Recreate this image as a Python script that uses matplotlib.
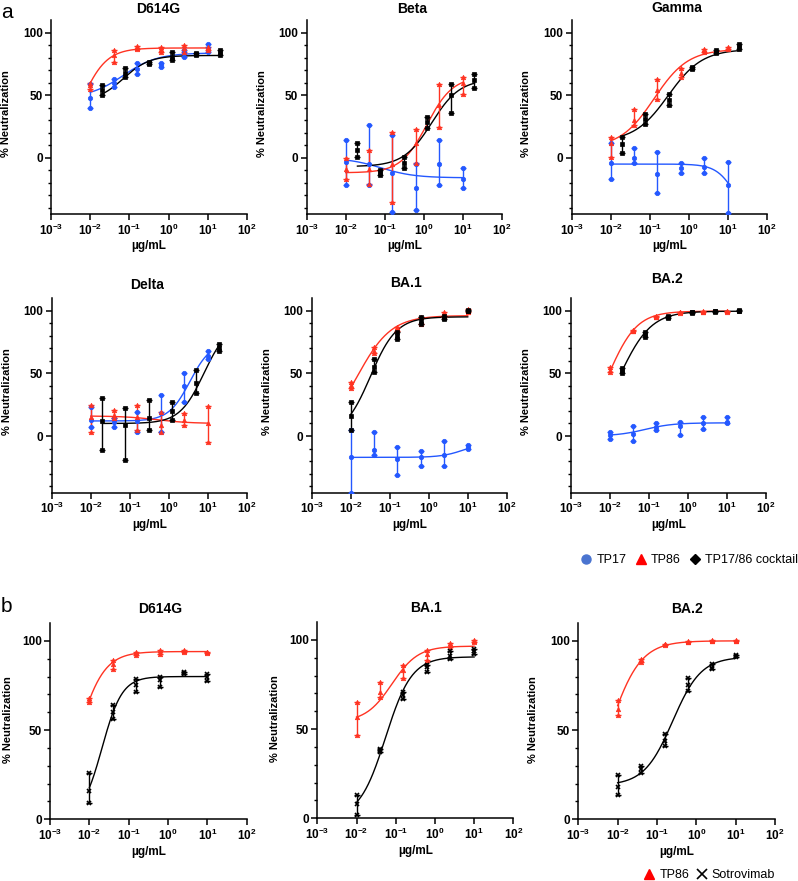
import numpy as np
import matplotlib
matplotlib.use("Agg")
import matplotlib.pyplot as plt
from matplotlib.lines import Line2D
from matplotlib.ticker import FixedLocator, NullLocator

plt.rcParams['font.family'] = ['Liberation Sans', 'DejaVu Sans']
plt.rcParams['mathtext.fontset'] = 'custom'
plt.rcParams['mathtext.rm'] = 'Liberation Sans:bold'
plt.rcParams['mathtext.it'] = 'Liberation Sans:bold'
plt.rcParams['mathtext.bf'] = 'Liberation Sans:bold'

# ---------------- data ----------------
CONC_SINGLE = [0.01, 0.04, 0.156, 0.625, 2.5, 10]
CONC_COCKTAIL = [0.02, 0.078, 0.3125, 1.25, 5, 20]
X_TICKS = [1e-3, 1e-2, 1e-1, 1e0, 1e1, 1e2]
X_TICK_LABELS = [r'$10^{-3}$', r'$10^{-2}$', r'$10^{-1}$', r'$10^{0}$', r'$10^{1}$', r'$10^{2}$']
Y_TICKS = [0, 50, 100]
TITLES_A = ['D614G', 'Beta', 'Gamma', 'Delta', 'BA.1', 'BA.2']
TITLES_B = ['D614G', 'BA.1', 'BA.2']
SERIES_A = ['TP17', 'TP86', 'TP17/86 cocktail']
SERIES_B = ['TP86', 'Sotrovimab']

# panel a -- D614G
D614G_TP17_MEAN = [48, 60, 71, 74, 84, 88]
D614G_TP17_LO = [40, 57, 67, 73, 81, 85]
D614G_TP17_HI = [59, 63, 76, 76, 86, 91]
D614G_TP17_FIT = [48, 84, 0.07, 1.0]
D614G_TP86_MEAN = [58, 82, 88, 87, 88, 88]
D614G_TP86_LO = [55, 77, 87, 85, 85, 86]
D614G_TP86_HI = [60, 86, 89.5, 89, 90, 89]
D614G_TP86_FIT = [0, 88, 0.0057, 1.34]
D614G_MIX_MEAN = [54, 68, 76, 81, 83, 84]
D614G_MIX_LO = [50, 65, 75.5, 78, 82, 82]
D614G_MIX_HI = [58, 72, 77, 85, 84, 86]
D614G_MIX_FIT = [45, 82, 0.07, 1.3]

# panel a -- Beta
BETA_TP17_MEAN = [-3, -5, -12, -24, -5, -17]
BETA_TP17_LO = [-22, -22, -43, -42, -22, -24]
BETA_TP17_HI = [14, 26, 18, -5, 14, -8]
BETA_TP17_FIT = [0, -16, 0.08, 1.0]
BETA_TP86_MEAN = [-9, -9, -5, 12, 42, 60]
BETA_TP86_LO = [-17, -21, -35, -4, 25, 51]
BETA_TP86_HI = [0, 6, 21, 23, 59, 65]
BETA_TP86_FIT = [-12, 65, 1.2, 1.3]
BETA_MIX_MEAN = [6, -12, -4, 29, 50, 62]
BETA_MIX_LO = [1, -14, -8, 24, 36, 56]
BETA_MIX_HI = [12, -10, 1, 33, 59, 67]
BETA_MIX_FIT = [-7, 63, 1.6, 1.2]

# panel a -- Gamma
GAMMA_TP17_MEAN = [-4, 0, -13, -8, -7, -22]
GAMMA_TP17_LO = [-17, -4.5, -28, -12, -12, -44]
GAMMA_TP17_HI = [12, 8, 5, -4, 0, -3]
GAMMA_TP17_FIT = [-5, -60, 18, 1.7]
GAMMA_TP86_MEAN = [12, 30, 54, 68, 86, 88]
GAMMA_TP86_LO = [1, 26, 47, 65, 84.5, 87]
GAMMA_TP86_HI = [17, 39, 63, 72, 87, 89]
GAMMA_TP86_FIT = [8, 87, 0.13, 1.0]
GAMMA_MIX_MEAN = [11, 31, 46, 72, 85, 89]
GAMMA_MIX_LO = [4, 27, 42, 71, 84, 87]
GAMMA_MIX_HI = [17, 35, 51, 73, 86, 91]
GAMMA_MIX_FIT = [13, 87, 0.3, 1.0]

# panel a -- Delta
DELTA_TP17_MEAN = [13, 11, 12, 18, 40, 64]
DELTA_TP17_LO = [7.5, 7.5, 3.5, 3.5, 27, 61]
DELTA_TP17_HI = [23, 14, 19, 33, 50, 68]
DELTA_TP17_FIT = [12, 75, 3.5, 1.6]
DELTA_TP86_MEAN = [15, 17, 15, 9, 13, 10]
DELTA_TP86_LO = [3, 14, 5, 3, 9, -5]
DELTA_TP86_HI = [25, 21, 25, 19, 18, 24]
DELTA_TP86_FIT = [16, 10, 0.5, 1.0]
DELTA_MIX_MEAN = [12, 9, 14, 20, 42, 70]
DELTA_MIX_LO = [-11, -19, 5, 13, 34, 68]
DELTA_MIX_HI = [30, 22, 29, 27, 53, 73]
DELTA_MIX_FIT = [10, 90, 8, 1.4]

# panel a -- BA.1 (cocktail tested at the single-antibody concentrations)
BA1_TP17_MEAN = [-17, -11, -18, -17, -15, -9]
BA1_TP17_LO = [-45, -15.5, -31, -24, -24, -10.7]
BA1_TP17_HI = [5, 3, -9, -12, -4, -7.5]
BA1_TP17_FIT = [-17, -5, 8, 1.5]
BA1_TP86_MEAN = [41, 68, 86, 92, 97, 100]
BA1_TP86_LO = [38, 66, 84, 89, 95, 99]
BA1_TP86_HI = [43, 71, 87, 95, 99, 101]
BA1_TP86_FIT = [0, 96, 0.015, 1.0]
BA1_MIX_MEAN = [16, 55, 80, 92, 94, 100]
BA1_MIX_LO = [5, 51, 77, 89, 93.5, 99.5]
BA1_MIX_HI = [27, 61, 83, 95, 96, 100.5]
BA1_MIX_FIT = [0, 95, 0.032, 1.3]

# panel a -- BA.2
BA2_TP17_MEAN = [0.5, 2, 7, 8, 10, 11]
BA2_TP17_LO = [-2, -4, 5, 1, 6, 10]
BA2_TP17_HI = [3, 8, 10, 11, 15, 15]
BA2_TP17_FIT = [0, 10.5, 0.08, 1.2]
BA2_TP86_MEAN = [53, 84, 95, 98.5, 99, 99.5]
BA2_TP86_LO = [51, 83.5, 94.5, 98, 98.8, 99.2]
BA2_TP86_HI = [55, 84.5, 96, 99, 99.5, 99.8]
BA2_TP86_FIT = [0, 99.5, 0.0095, 1.2]
BA2_MIX_MEAN = [52, 81, 95, 98.5, 99.5, 100]
BA2_MIX_LO = [50, 79, 94, 98, 99.2, 99.8]
BA2_MIX_HI = [54, 83, 96, 99, 99.8, 100.2]
BA2_MIX_FIT = [0, 99.5, 0.019, 1.1]

# panel b
B_D614G_TP86_MEAN = [67, 87, 93, 94, 94.5, 93.5]
B_D614G_TP86_LO = [66, 84, 92, 92.5, 94, 93]
B_D614G_TP86_HI = [68, 89, 94, 95, 95, 94]
B_D614G_TP86_FIT = [0, 94, 0.005, 1.3]
B_D614G_SOT_MEAN = [16, 60, 75, 78, 82, 79.5]
B_D614G_SOT_LO = [9, 56, 71.6, 74, 81.5, 77.5]
B_D614G_SOT_HI = [26, 64, 78.5, 80, 82.5, 81.5]
B_D614G_SOT_FIT = [0, 80, 0.021, 1.7]

B_BA1_TP86_MEAN = [57, 71, 83, 92, 97, 99.5]
B_BA1_TP86_LO = [46.7, 67.9, 78.5, 88.8, 96, 99]
B_BA1_TP86_HI = [65.4, 76.6, 86, 94.4, 98, 100]
B_BA1_TP86_FIT = [54, 96.5, 0.08, 1.3]
B_BA1_SOT_MEAN = [8, 38, 69, 85, 91, 94]
B_BA1_SOT_LO = [2, 37, 67, 82, 89, 92]
B_BA1_SOT_HI = [13, 39, 71, 86, 94, 95]
B_BA1_SOT_FIT = [0, 90.5, 0.055, 1.3]

B_BA2_TP86_MEAN = [62, 89, 98, 99.5, 100, 100]
B_BA2_TP86_LO = [58.4, 88, 97.5, 99.2, 99.8, 99.8]
B_BA2_TP86_HI = [66.8, 90, 98.5, 99.8, 100.2, 100.2]
B_BA2_TP86_FIT = [0, 100, 0.006, 1.1]
B_BA2_SOT_MEAN = [18, 28, 44, 75, 85, 91.5]
B_BA2_SOT_LO = [13.6, 26, 41, 72, 84, 91]
B_BA2_SOT_HI = [24.8, 30, 48, 79, 87, 92]
B_BA2_SOT_FIT = [19, 91, 0.25, 1.2]

# ---------------- styles ----------------
BLUE = '#2458ff'
RED = '#ff3322'
BLACK = '#000000'
STYLE_A = [(BLUE, 'o', 3.2), (RED, '^', 3.2), (BLACK, 's', 2.8)]
STYLE_B = [(RED, '^', 3.2), (BLACK, 'x', 3.2)]

W, H = 798, 881
fig = plt.figure(figsize=(W / 100, H / 100), dpi=100)


def four_pl(x, bottom, top, ec50, hill):
    x = np.asarray(x, dtype=float)
    return bottom + (top - bottom) / (1.0 + (ec50 / x) ** hill)


def make_axes(l, r, t, b):
    return fig.add_axes([l / W, 1 - b / H, (r - l) / W, (b - t) / H])


def style_axes(ax, ymin):
    ax.set_xscale('log')
    ax.set_xlim(1e-3, 1e2)
    ax.set_ylim(ymin, 110)
    for s in ['top', 'right']:
        ax.spines[s].set_visible(False)
    for s in ['left', 'bottom']:
        ax.spines[s].set_linewidth(1.1)
    ax.xaxis.set_major_locator(FixedLocator(X_TICKS))
    ax.set_xticklabels(X_TICK_LABELS)
    ax.xaxis.set_minor_locator(NullLocator())
    ax.yaxis.set_major_locator(FixedLocator(Y_TICKS))
    start = -40 if ymin < 0 else 0
    minors = [v for v in range(start, 101, 10) if v not in Y_TICKS]
    ax.yaxis.set_minor_locator(FixedLocator(minors))
    ax.tick_params(axis='both', which='major', direction='out', length=4, width=1.1,
                   labelsize=8.5, pad=2)
    ax.tick_params(axis='y', which='minor', direction='out', length=2.5, width=1.0)
    for lab in ax.get_yticklabels():
        lab.set_fontweight('bold')


def draw_series(ax, conc, mean, lo, hi, fit, color, marker, ms):
    conc = np.asarray(conc, dtype=float)
    mean = np.asarray(mean, dtype=float)
    lo = np.asarray(lo, dtype=float)
    hi = np.asarray(hi, dtype=float)
    xs = np.logspace(np.log10(conc.min()), np.log10(conc.max()), 200)
    ax.plot(xs, four_pl(xs, *fit), color=color, lw=1.0, zorder=2)
    ax.errorbar(conc, mean, yerr=[mean - lo, hi - mean], fmt='none', ecolor=color,
                elinewidth=1.0, capsize=2.5, capthick=1.0, zorder=3)
    pts_x = np.concatenate([conc, conc, conc])
    pts_y = np.concatenate([lo, mean, hi])
    mew = 1.2 if marker == 'x' else 0.5
    ax.plot(pts_x, pts_y, ls='none', marker=marker, ms=ms, color=color, mew=mew, zorder=4)


# panel tables
PANELS_A = [
    ([CONC_SINGLE, D614G_TP17_MEAN, D614G_TP17_LO, D614G_TP17_HI, D614G_TP17_FIT],
     [CONC_SINGLE, D614G_TP86_MEAN, D614G_TP86_LO, D614G_TP86_HI, D614G_TP86_FIT],
     [CONC_COCKTAIL, D614G_MIX_MEAN, D614G_MIX_LO, D614G_MIX_HI, D614G_MIX_FIT]),
    ([CONC_SINGLE, BETA_TP17_MEAN, BETA_TP17_LO, BETA_TP17_HI, BETA_TP17_FIT],
     [CONC_SINGLE, BETA_TP86_MEAN, BETA_TP86_LO, BETA_TP86_HI, BETA_TP86_FIT],
     [CONC_COCKTAIL, BETA_MIX_MEAN, BETA_MIX_LO, BETA_MIX_HI, BETA_MIX_FIT]),
    ([CONC_SINGLE, GAMMA_TP17_MEAN, GAMMA_TP17_LO, GAMMA_TP17_HI, GAMMA_TP17_FIT],
     [CONC_SINGLE, GAMMA_TP86_MEAN, GAMMA_TP86_LO, GAMMA_TP86_HI, GAMMA_TP86_FIT],
     [CONC_COCKTAIL, GAMMA_MIX_MEAN, GAMMA_MIX_LO, GAMMA_MIX_HI, GAMMA_MIX_FIT]),
    ([CONC_SINGLE, DELTA_TP17_MEAN, DELTA_TP17_LO, DELTA_TP17_HI, DELTA_TP17_FIT],
     [CONC_SINGLE, DELTA_TP86_MEAN, DELTA_TP86_LO, DELTA_TP86_HI, DELTA_TP86_FIT],
     [CONC_COCKTAIL, DELTA_MIX_MEAN, DELTA_MIX_LO, DELTA_MIX_HI, DELTA_MIX_FIT]),
    ([CONC_SINGLE, BA1_TP17_MEAN, BA1_TP17_LO, BA1_TP17_HI, BA1_TP17_FIT],
     [CONC_SINGLE, BA1_TP86_MEAN, BA1_TP86_LO, BA1_TP86_HI, BA1_TP86_FIT],
     [CONC_SINGLE, BA1_MIX_MEAN, BA1_MIX_LO, BA1_MIX_HI, BA1_MIX_FIT]),
    ([CONC_SINGLE, BA2_TP17_MEAN, BA2_TP17_LO, BA2_TP17_HI, BA2_TP17_FIT],
     [CONC_SINGLE, BA2_TP86_MEAN, BA2_TP86_LO, BA2_TP86_HI, BA2_TP86_FIT],
     [CONC_COCKTAIL, BA2_MIX_MEAN, BA2_MIX_LO, BA2_MIX_HI, BA2_MIX_FIT]),
]
PANELS_B = [
    ([CONC_SINGLE, B_D614G_TP86_MEAN, B_D614G_TP86_LO, B_D614G_TP86_HI, B_D614G_TP86_FIT],
     [CONC_SINGLE, B_D614G_SOT_MEAN, B_D614G_SOT_LO, B_D614G_SOT_HI, B_D614G_SOT_FIT]),
    ([CONC_SINGLE, B_BA1_TP86_MEAN, B_BA1_TP86_LO, B_BA1_TP86_HI, B_BA1_TP86_FIT],
     [CONC_SINGLE, B_BA1_SOT_MEAN, B_BA1_SOT_LO, B_BA1_SOT_HI, B_BA1_SOT_FIT]),
    ([CONC_SINGLE, B_BA2_TP86_MEAN, B_BA2_TP86_LO, B_BA2_TP86_HI, B_BA2_TP86_FIT],
     [CONC_SINGLE, B_BA2_SOT_MEAN, B_BA2_SOT_LO, B_BA2_SOT_HI, B_BA2_SOT_FIT]),
]

# layout (pixels): left, right, top(=110), bottom(=ymin)
AX_A = [(51, 247, 20.5, 214), (306.7, 501.7, 20.5, 214), (571.7, 766.7, 20.5, 214),
        (51.7, 246.7, 298, 492.5), (311.7, 506.7, 298, 492.5), (570.7, 766, 298, 492.5)]
TITLE_A_POS = [(158, 9), (411.7, 9), (676.7, 8), (146.7, 285), (405.7, 283), (667.3, 279)]
YLAB_A_X = [6, 262, 526, 6.7, 266.7, 526]
AX_B = [(50, 246.7, 623, 819.3), (317.3, 513.3, 622, 818.3), (578.3, 775, 623, 819.3)]
TITLE_B_POS = [(160, 609), (425.7, 608), (687.3, 609)]
YLAB_B_X = [8.3, 275, 533]

for i, series in enumerate(PANELS_A):
    l, r, t, b = AX_A[i]
    ax = make_axes(l, r, t, b)
    style_axes(ax, -45)
    for (conc, m, lo, hi, fit), (c, mk, ms) in zip(series, STYLE_A):
        draw_series(ax, conc, m, lo, hi, fit, c, mk, ms)
    tx, ty = TITLE_A_POS[i]
    fig.text(tx / W, 1 - ty / H, TITLES_A[i], ha='center', va='center', fontsize=10, fontweight='bold')
    fig.text(YLAB_A_X[i] / W, 1 - ((t + b) / 2 - 4) / H, '% Neutralization', rotation=90,
             ha='center', va='center', fontsize=8, fontweight='bold')
    ax.set_xlabel('µg/mL', fontsize=8.5, fontweight='bold', labelpad=2)

for i, series in enumerate(PANELS_B):
    l, r, t, b = AX_B[i]
    ax = make_axes(l, r, t, b)
    style_axes(ax, 0)
    for (conc, m, lo, hi, fit), (c, mk, ms) in zip(series, STYLE_B):
        draw_series(ax, conc, m, lo, hi, fit, c, mk, ms)
    tx, ty = TITLE_B_POS[i]
    fig.text(tx / W, 1 - ty / H, TITLES_B[i], ha='center', va='center', fontsize=10, fontweight='bold')
    fig.text(YLAB_B_X[i] / W, 1 - ((t + b) / 2 - 2) / H, '% Neutralization', rotation=90,
             ha='center', va='center', fontsize=8, fontweight='bold')
    ax.set_xlabel('µg/mL', fontsize=8.5, fontweight='bold', labelpad=2)

# panel letters
fig.text(1 / W, 1 - 12 / H, 'a', fontsize=15, ha='left', va='center')
fig.text(1 / W, 1 - 607 / H, 'b', fontsize=15, ha='left', va='center')

# legends
handles_a = [Line2D([], [], ls='none', marker='o', ms=6.5, color='#4a74d0'),
             Line2D([], [], ls='none', marker='^', ms=6.5, color='#ff0000'),
             Line2D([], [], ls='none', marker='D', ms=5.5, color='#000000')]
fig.legend(handles_a, SERIES_A, loc='center right', bbox_to_anchor=(1.0, 1 - 560 / H),
           ncol=3, frameon=False, fontsize=9, handlelength=0.8, handletextpad=0.4,
           columnspacing=0.75, borderpad=0, borderaxespad=0)
handles_b = [Line2D([], [], ls='none', marker='^', ms=6.5, color='#ff0000'),
             Line2D([], [], ls='none', marker='x', ms=6.5, mew=1.2, color='#000000')]
fig.legend(handles_b, SERIES_B, loc='center right', bbox_to_anchor=(775 / W, 1 - 875 / H),
           ncol=2, frameon=False, fontsize=9, handlelength=0.8, handletextpad=0.4,
           columnspacing=0.6, borderpad=0, borderaxespad=0)

fig.savefig('out.png', dpi=100)
